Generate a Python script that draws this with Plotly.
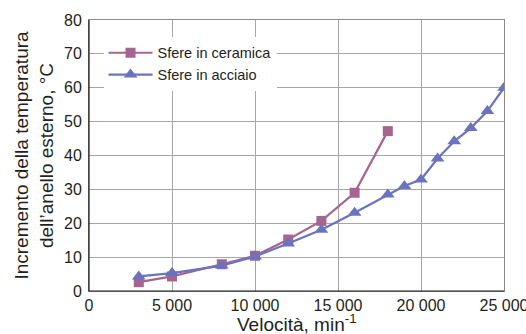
import plotly.graph_objects as go

# Data
speed_ceramic = [3000, 5000, 8000, 10000, 12000, 14000, 16000, 18000]
temp_ceramic = [2.6, 4.3, 7.9, 10.4, 15.2, 20.7, 29.0, 47.2]

speed_steel = [3000, 5000, 8000, 10000, 12000, 14000, 16000, 18000, 19000, 20000,
               21000, 22000, 23000, 24000, 25000]
temp_steel = [4.3, 5.3, 7.5, 10.2, 14.0, 18.1, 23.1, 28.5, 31.0, 32.9,
              39.1, 44.2, 48.1, 53.1, 60.0]

x_tickvals = [0, 5000, 10000, 15000, 20000, 25000]
x_ticktext = ["0", "5 000", "10 000", "15 000", "20 000", "25 000"]
y_tickvals = [0, 10, 20, 30, 40, 50, 60, 70, 80]

series_names = ["Sfere in ceramica", "Sfere in acciaio"]
x_title = "Velocità, min<sup>-1</sup>"
y_title = "Incremento della temperatura<br>dell\u2019anello esterno, °C"

FONT = "Liberation Sans, Arial, sans-serif"
TXT = "#231f20"
C_CER = "#a5658f"
C_STE = "#6b73bf"

fig = go.Figure()
fig.add_trace(go.Scatter(
    x=speed_ceramic, y=temp_ceramic, name=series_names[0], mode="lines+markers",
    line=dict(color=C_CER, width=2.2),
    marker=dict(symbol="square", size=10, color=C_CER),
))
fig.add_trace(go.Scatter(
    x=speed_steel, y=temp_steel, name=series_names[1], mode="lines+markers",
    line=dict(color=C_STE, width=2.2),
    marker=dict(symbol="triangle-up", size=12, color=C_STE),
))

fig.update_layout(
    width=526, height=334,
    margin=dict(l=89, r=22, t=20, b=43, autoexpand=False),
    paper_bgcolor="white", plot_bgcolor="white",
    font=dict(family=FONT, color=TXT, size=16),
    showlegend=True,
    legend=dict(
        x=0.035, y=0.938, xanchor="left", yanchor="top",
        bgcolor="white", borderwidth=0,
        font=dict(size=14.5, color=TXT, family=FONT),
        itemwidth=44, tracegroupgap=0,
    ),
    xaxis=dict(
        range=[0, 25000], tickvals=x_tickvals, ticktext=x_ticktext,
        showgrid=True, gridcolor="#a6a6a6", gridwidth=1,
        showline=True, linecolor="#8a8a8a", linewidth=1, mirror=True,
        ticks="", zeroline=False, ticklabeloverflow="allow",
        tickfont=dict(size=16),
    ),
    yaxis=dict(
        range=[0, 80], tickvals=y_tickvals,
        showgrid=True, gridcolor="#a6a6a6", gridwidth=1,
        showline=True, linecolor="#8a8a8a", linewidth=1, mirror=True,
        ticks="", zeroline=False, ticklabeloverflow="allow",
        tickfont=dict(size=16), ticklabelstandoff=3,
        title=dict(text=y_title, font=dict(size=19), standoff=5),
    ),
)

# x-axis title placed as an annotation under the tick labels
fig.add_annotation(
    text=x_title, xref="paper", yref="paper", x=0.5, y=0,
    xanchor="center", yanchor="bottom", yshift=-46, showarrow=False,
    font=dict(size=19, color=TXT, family=FONT),
)

# darker left and bottom axis lines
fig.add_shape(type="line", xref="paper", yref="paper", x0=0, x1=0, y0=0, y1=1,
              line=dict(color="#1a1a1a", width=1.2), layer="above")
fig.add_shape(type="line", xref="paper", yref="paper", x0=0, x1=1, y0=0, y1=0,
              line=dict(color="#1a1a1a", width=1.2), layer="above")

fig.write_html(
    "out.html",
    config={"displayModeBar": False},
    post_script="document.body.style.margin='0';document.body.style.overflow='hidden';",
)
